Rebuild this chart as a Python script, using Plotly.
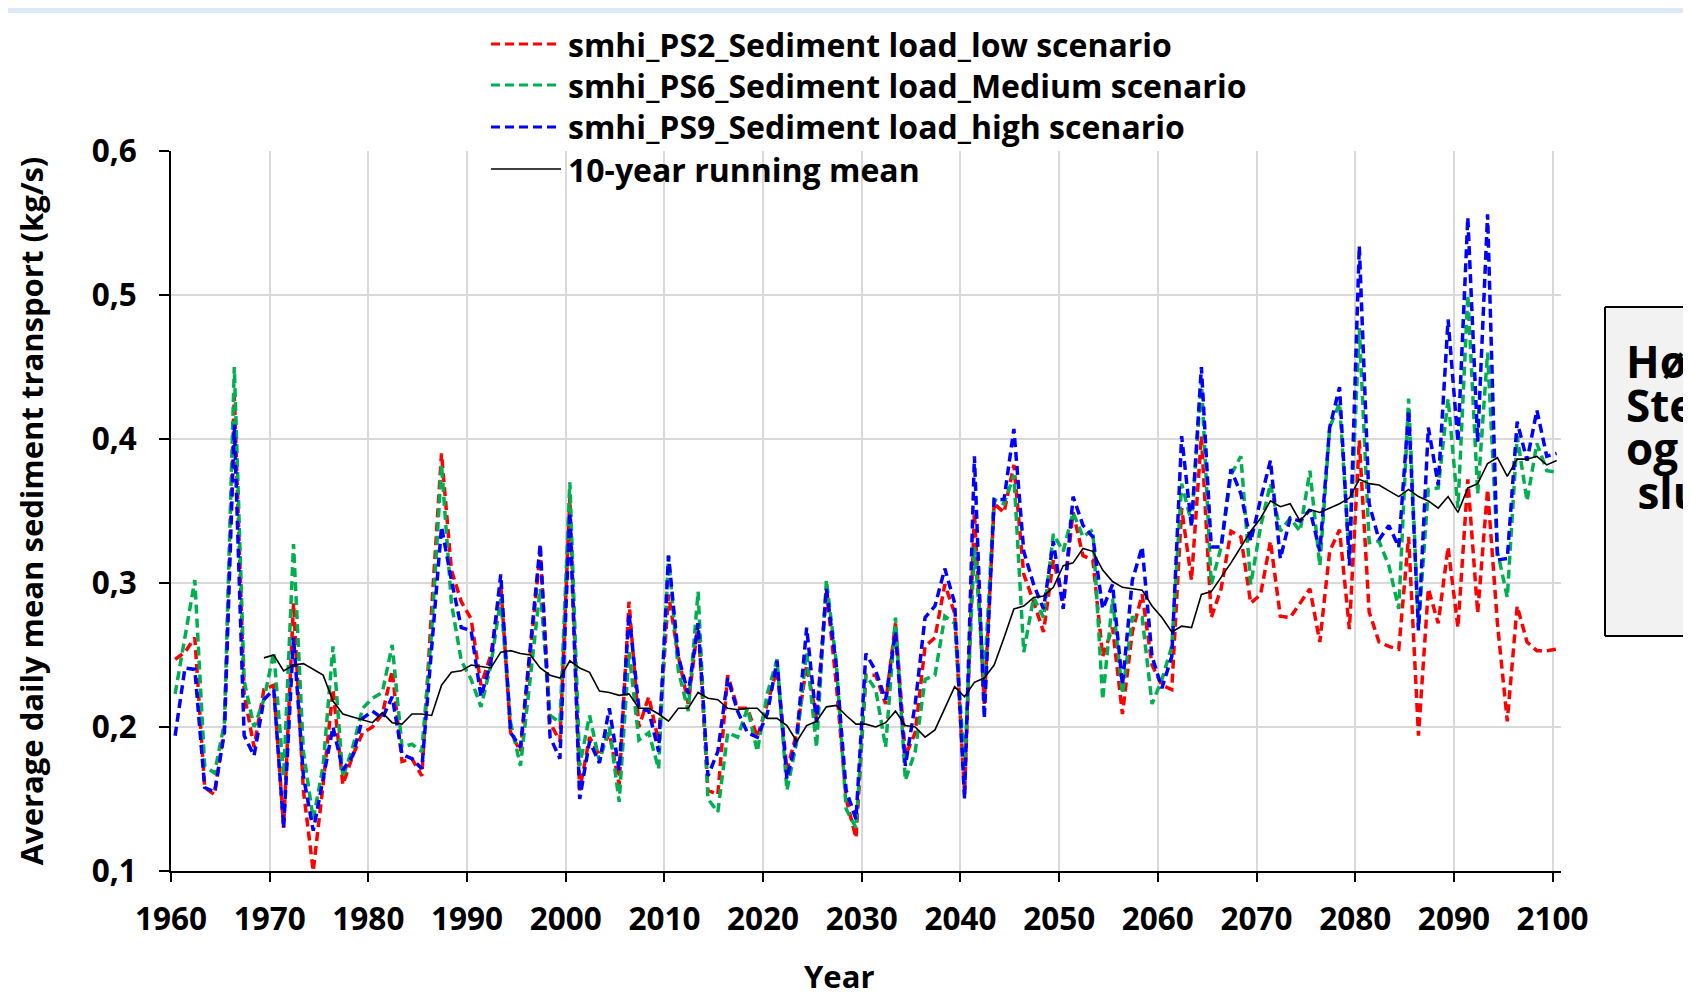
import plotly.graph_objects as go

years = list(range(1960, 2101))

low_ps2 = [
    0.247, 0.252, 0.262, 0.158, 0.153, 0.200, 0.430, 0.223, 0.186, 0.226,
    0.229, 0.130, 0.286, 0.156, 0.100, 0.160, 0.226, 0.160, 0.180, 0.196,
    0.200, 0.209, 0.239, 0.176, 0.178, 0.166, 0.282, 0.390, 0.309, 0.287,
    0.275, 0.229, 0.250, 0.299, 0.196, 0.183, 0.252, 0.322, 0.203, 0.190,
    0.359, 0.156, 0.193, 0.180, 0.196, 0.160, 0.287, 0.200, 0.221, 0.190,
    0.292, 0.249, 0.216, 0.272, 0.156, 0.153, 0.236, 0.213, 0.213, 0.193,
    0.216, 0.240, 0.170, 0.196, 0.243, 0.206, 0.296, 0.230, 0.150, 0.123,
    0.236, 0.236, 0.216, 0.272, 0.180, 0.196, 0.256, 0.262, 0.299, 0.279,
    0.153, 0.349, 0.216, 0.355, 0.349, 0.382, 0.306, 0.287, 0.266, 0.316,
    0.287, 0.349, 0.319, 0.316, 0.249, 0.269, 0.209, 0.266, 0.292, 0.243,
    0.229, 0.226, 0.352, 0.302, 0.402, 0.276, 0.296, 0.336, 0.332, 0.286,
    0.292, 0.329, 0.277, 0.276, 0.286, 0.296, 0.259, 0.322, 0.337, 0.268,
    0.399, 0.280, 0.259, 0.256, 0.254, 0.332, 0.194, 0.296, 0.272, 0.325,
    0.269, 0.372, 0.279, 0.365, 0.272, 0.204, 0.284, 0.259, 0.253, 0.253,
    0.254,
]

medium_ps6 = [
    0.223, 0.262, 0.302, 0.173, 0.168, 0.203, 0.450, 0.232, 0.200, 0.219,
    0.252, 0.166, 0.327, 0.183, 0.136, 0.173, 0.256, 0.165, 0.186, 0.213,
    0.220, 0.224, 0.257, 0.186, 0.188, 0.183, 0.266, 0.382, 0.286, 0.246,
    0.233, 0.214, 0.243, 0.289, 0.203, 0.173, 0.233, 0.296, 0.208, 0.203,
    0.370, 0.173, 0.208, 0.176, 0.200, 0.148, 0.252, 0.191, 0.196, 0.171,
    0.319, 0.239, 0.211, 0.294, 0.150, 0.141, 0.196, 0.193, 0.213, 0.183,
    0.223, 0.247, 0.156, 0.190, 0.252, 0.186, 0.302, 0.245, 0.143, 0.130,
    0.236, 0.226, 0.186, 0.276, 0.163, 0.183, 0.233, 0.236, 0.277, 0.272,
    0.173, 0.325, 0.233, 0.358, 0.355, 0.375, 0.252, 0.290, 0.276, 0.334,
    0.322, 0.349, 0.332, 0.337, 0.219, 0.289, 0.223, 0.276, 0.276, 0.216,
    0.233, 0.256, 0.369, 0.342, 0.441, 0.299, 0.325, 0.375, 0.388, 0.299,
    0.339, 0.369, 0.336, 0.345, 0.336, 0.378, 0.312, 0.408, 0.425, 0.318,
    0.477, 0.328, 0.329, 0.312, 0.282, 0.428, 0.269, 0.365, 0.366, 0.428,
    0.352, 0.500, 0.362, 0.460, 0.322, 0.290, 0.402, 0.357, 0.397, 0.378,
    0.377,
]

high_ps9 = [
    0.194, 0.241, 0.240, 0.158, 0.155, 0.196, 0.410, 0.194, 0.180, 0.219,
    0.226, 0.130, 0.262, 0.166, 0.128, 0.163, 0.200, 0.170, 0.180, 0.206,
    0.211, 0.206, 0.221, 0.181, 0.178, 0.171, 0.256, 0.339, 0.302, 0.269,
    0.267, 0.221, 0.245, 0.306, 0.196, 0.186, 0.256, 0.327, 0.193, 0.178,
    0.349, 0.150, 0.190, 0.175, 0.213, 0.170, 0.279, 0.213, 0.211, 0.183,
    0.319, 0.249, 0.223, 0.272, 0.166, 0.183, 0.234, 0.211, 0.196, 0.193,
    0.209, 0.246, 0.164, 0.193, 0.269, 0.203, 0.296, 0.243, 0.156, 0.136,
    0.251, 0.239, 0.219, 0.266, 0.173, 0.216, 0.276, 0.284, 0.310, 0.286,
    0.150, 0.388, 0.206, 0.358, 0.358, 0.407, 0.322, 0.299, 0.282, 0.329,
    0.282, 0.360, 0.340, 0.332, 0.282, 0.299, 0.229, 0.302, 0.325, 0.249,
    0.227, 0.249, 0.402, 0.339, 0.450, 0.325, 0.325, 0.379, 0.362, 0.329,
    0.358, 0.385, 0.317, 0.345, 0.343, 0.351, 0.322, 0.408, 0.436, 0.312,
    0.534, 0.355, 0.330, 0.340, 0.325, 0.420, 0.267, 0.408, 0.368, 0.483,
    0.398, 0.554, 0.398, 0.556, 0.316, 0.317, 0.412, 0.385, 0.420, 0.388,
    0.390,
]

mean_years = list(range(1969, 2101))
running_mean = [
    0.248,
    0.250, 0.239, 0.243, 0.244, 0.240, 0.236, 0.218, 0.209, 0.207, 0.205,
    0.203, 0.210, 0.203, 0.202, 0.209, 0.209, 0.208, 0.229, 0.238, 0.239,
    0.243, 0.242, 0.241, 0.252, 0.253, 0.251, 0.250, 0.241, 0.236, 0.234,
    0.246, 0.241, 0.238, 0.225, 0.224, 0.222, 0.223, 0.213, 0.213, 0.209,
    0.204, 0.213, 0.213, 0.224, 0.220, 0.219, 0.213, 0.212, 0.213, 0.213,
    0.206, 0.206, 0.201, 0.190, 0.201, 0.204, 0.214, 0.215, 0.208, 0.202,
    0.202, 0.200, 0.203, 0.211, 0.201, 0.200, 0.193, 0.198, 0.213, 0.228,
    0.221, 0.231, 0.234, 0.243, 0.262, 0.282, 0.284, 0.290, 0.291, 0.297,
    0.312, 0.314, 0.324, 0.322, 0.309, 0.301, 0.297, 0.296, 0.295, 0.284,
    0.276, 0.266, 0.270, 0.269, 0.292, 0.294, 0.304, 0.314, 0.325, 0.336,
    0.345, 0.357, 0.353, 0.355, 0.343, 0.351, 0.349, 0.352, 0.355, 0.359,
    0.372, 0.369, 0.368, 0.364, 0.360, 0.365, 0.360, 0.357, 0.352, 0.360,
    0.349, 0.366, 0.369, 0.383, 0.387, 0.374, 0.386, 0.386, 0.388, 0.382,
    0.385,
]

series_names = [
    "smhi_PS2_Sediment load_low scenario",
    "smhi_PS6_Sediment load_Medium scenario",
    "smhi_PS9_Sediment load_high scenario",
    "10-year running mean",
]
series_colors = ["#ff0000", "#00b050", "#0000ff", "#000000"]

y_title = "Average daily mean sediment transport (kg/s)"
x_title = "Year"
box_lines = ["Hø", "Ste", "og", "&nbsp;slu"]

FONT = "Open Sans"
OFF = 8                      # page offset of the figure (body margin)
W, H = 1683, 992             # figure size
# plot area in page pixels
L, R, T, B = 171, 1561, 151, 871


def xp(px):
    return (px - L) / (R - L)


def yp(py):
    return (B - py) / (B - T)


def dates(ys):
    return [f"{y}-06-01" for y in ys]


dash = "9px,5px"
fig = go.Figure()
for vals, name, col in zip([low_ps2, medium_ps6, high_ps9], series_names[:3], series_colors[:3]):
    fig.add_trace(go.Scatter(
        x=dates(years), y=vals, mode="lines", name=name,
        line=dict(color=col, width=3.5, dash=dash), showlegend=False,
    ))
fig.add_trace(go.Scatter(
    x=dates(mean_years), y=running_mean, mode="lines", name=series_names[3],
    line=dict(color="#000000", width=1.6), showlegend=False,
))

shapes = []
annotations = []
# top light band
shapes.append(dict(type="rect", xref="paper", yref="paper",
                   x0=xp(OFF), x1=xp(W + OFF), y0=yp(OFF + 5), y1=yp(OFF),
                   fillcolor="#dde9f5", line=dict(width=0), layer="below"))

# manual legend
row_y = [44, 85, 127, 169]
for i, (name, col, ry) in enumerate(zip(series_names, series_colors, row_y)):
    shapes.append(dict(type="line", xref="paper", yref="paper",
                       x0=xp(491), x1=xp(561), y0=yp(ry), y1=yp(ry),
                       line=dict(color=col, width=3 if i < 3 else 1.6,
                                 dash=dash if i < 3 else "solid")))
    annotations.append(dict(text=name, xref="paper", yref="paper",
                            x=xp(566), y=yp(ry), xanchor="left", yanchor="middle",
                            showarrow=False,
                            font=dict(family=FONT, size=32, color="black", weight="bold")))

# x-axis title, placed like the reference (slightly left of the plot centre)
annotations.append(dict(text=x_title, xref="paper", yref="paper",
                        x=xp(839), y=yp(H + OFF - 1), xanchor="center", yanchor="bottom",
                        showarrow=False,
                        font=dict(family=FONT, size=31, color="black", weight="bold")))

# partially visible text box at the right edge (cut by the page edge)
bx0, bx1, by0, by1 = 1605, 1760, 307, 636
shapes.append(dict(type="rect", xref="paper", yref="paper",
                   x0=xp(bx0), x1=xp(bx1), y0=yp(by1), y1=yp(by0),
                   fillcolor="#f2f2f2", line=dict(width=0)))
for (ax0, ay0, ax1, ay1) in [(bx0, by0, bx0, by1), (bx0, by0, bx1, by0), (bx0, by1, bx1, by1)]:
    shapes.append(dict(type="line", xref="paper", yref="paper",
                       x0=xp(ax0), x1=xp(ax1), y0=yp(ay0), y1=yp(ay1),
                       line=dict(color="black", width=2)))
box_text = "<br>".join(f'<span style="font-size:44px">{t}</span>' for t in box_lines)
annotations.append(dict(text=box_text, xref="paper", yref="paper",
                        x=xp(1624), y=yp(426), xanchor="left", yanchor="middle",
                        align="left", showarrow=False,
                        font=dict(family=FONT, size=33.5, color="black", weight="bold")))

fig.update_layout(
    width=W, height=H,
    margin=dict(l=L - OFF, r=W + OFF - R, t=T - OFF, b=H + OFF - B, autoexpand=False),
    paper_bgcolor="white", plot_bgcolor="white",
    separators=", ",
    shapes=shapes, annotations=annotations,
    showlegend=False,
    font=dict(family=FONT, size=31, color="black"),
)
fig.update_xaxes(
    type="date", range=["1960-01-01", "2100-11-10"],
    tick0="1960-01-01", dtick="M120", tickformat="%Y",
    showgrid=True, gridcolor="#d9d9d9", gridwidth=2,
    showline=True, linecolor="black", linewidth=2,
    ticks="outside", ticklen=9, tickwidth=2, tickcolor="black",
    tickfont=dict(family=FONT, size=31.5, color="black", weight="bold"),
    ticklabelstandoff=10,
    zeroline=False,
)
fig.update_yaxes(
    range=[0.1, 0.6], dtick=0.1, tick0=0.1, tickformat=".1f",
    showgrid=True, gridcolor="#d9d9d9", gridwidth=2,
    showline=True, linecolor="black", linewidth=2,
    ticks="outside", ticklen=10, tickwidth=2, tickcolor="black",
    tickfont=dict(family=FONT, size=31.5, color="black", weight="bold"),
    ticklabelstandoff=16,
    title=dict(text=y_title, standoff=39,
               font=dict(family=FONT, size=31, color="black", weight="bold")),
    zeroline=False,
)

fig.write_html("out.html")
